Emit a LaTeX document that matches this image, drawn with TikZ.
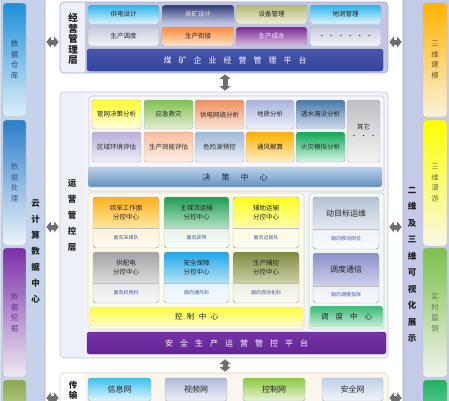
\documentclass[tikz,border=0pt]{standalone}
\usepackage{fontspec}
\setmainfont{Noto Sans CJK SC}
\usetikzlibrary{arrows.meta}
% colours
\definecolor{lpbg}{HTML}{C4D3EA}\definecolor{lpbd}{HTML}{A8B4CC}
\definecolor{rpbg}{HTML}{C4CAE8}\definecolor{rpbd}{HTML}{A0A8CC}
\definecolor{dwA}{HTML}{1E8FD8}\definecolor{dwB}{HTML}{DDEFF9}\definecolor{dwT}{HTML}{34466E}
\definecolor{clA}{HTML}{2A7FC8}\definecolor{clB}{HTML}{EEF4FA}\definecolor{clT}{HTML}{4A5A8A}
\definecolor{wjA}{HTML}{7A30A8}\definecolor{wjB}{HTML}{EEE8F4}\definecolor{wjT}{HTML}{6A3A8A}
\definecolor{lgA}{HTML}{8CA850}\definecolor{lgB}{HTML}{B8CC88}
\definecolor{jmA}{HTML}{FFB400}\definecolor{jmB}{HTML}{FBF2DC}\definecolor{jmT}{HTML}{7A5A20}
\definecolor{myA}{HTML}{FFFF00}\definecolor{myB}{HTML}{F8F8E8}\definecolor{myT}{HTML}{7A7A30}
\definecolor{jcA}{HTML}{7CC04C}\definecolor{jcB}{HTML}{F0F4EC}\definecolor{jcT}{HTML}{5A7A4A}
\definecolor{rgA}{HTML}{20B060}\definecolor{rgB}{HTML}{60C890}
\definecolor{tpin}{HTML}{C2C6E4}\definecolor{labbg}{HTML}{EEF0F8}\definecolor{tpbd}{HTML}{A4AACC}
\definecolor{mpin}{HTML}{F4F2FA}\definecolor{mpbd}{HTML}{C4C4D6}
\definecolor{bpin}{HTML}{FAF6EE}\definecolor{bpbd}{HTML}{E0D2B4}
\definecolor{gdA}{HTML}{2AB4EA}\definecolor{gdB}{HTML}{E2F5FC}
\definecolor{ckA}{HTML}{2E3A76}\definecolor{ckB}{HTML}{C8CCE8}\definecolor{ckT}{HTML}{F0E8D0}
\definecolor{sbA}{HTML}{B4B874}\definecolor{sbB}{HTML}{EEF0DC}
\definecolor{sdA}{HTML}{C8CCE0}\definecolor{sdB}{HTML}{F4F4FA}
\definecolor{sxA}{HTML}{FF8A3E}\definecolor{sxB}{HTML}{FFE4CC}
\definecolor{scA}{HTML}{7A2890}\definecolor{scB}{HTML}{D8C0E0}\definecolor{scT}{HTML}{F2E4F6}
\definecolor{navA}{HTML}{4656AA}\definecolor{navB}{HTML}{34449A}
\definecolor{gwA}{HTML}{FFFF30}\definecolor{gwB}{HTML}{FCFCE2}
\definecolor{yjA}{HTML}{80C050}\definecolor{yjB}{HTML}{E2F0D4}
\definecolor{gdwA}{HTML}{F09060}\definecolor{gdwB}{HTML}{FBE6DA}
\definecolor{dzA}{HTML}{A8B4E0}\definecolor{dzB}{HTML}{EEF0FA}
\definecolor{tsA}{HTML}{4878A8}\definecolor{tsB}{HTML}{D2DEEC}
\definecolor{qtA}{HTML}{C0C0C4}\definecolor{qtB}{HTML}{F4F4F4}
\definecolor{qyA}{HTML}{B8B0D8}\definecolor{qyB}{HTML}{F0EEF8}
\definecolor{xnA}{HTML}{F8BE9C}\definecolor{xnB}{HTML}{FCF0E8}
\definecolor{wxA}{HTML}{A0B8D8}\definecolor{wxB}{HTML}{EEF2F8}
\definecolor{tfA}{HTML}{FFB000}\definecolor{tfB}{HTML}{FFF0C8}
\definecolor{hzA}{HTML}{10A858}\definecolor{hzB}{HTML}{D8F4E4}
\definecolor{jczA}{HTML}{BCD2EA}\definecolor{jczM}{HTML}{E4EEF8}\definecolor{jczB}{HTML}{6090C0}
\definecolor{kzA}{HTML}{FFFF3C}\definecolor{kzB}{HTML}{FFFBC8}
\definecolor{ddA}{HTML}{3CB878}\definecolor{ddB}{HTML}{C6EED6}
\definecolor{ppA}{HTML}{7434A6}\definecolor{ppB}{HTML}{642494}
\definecolor{xxA}{HTML}{3EC0EE}\definecolor{xxB}{HTML}{E4F6FC}
\definecolor{spA}{HTML}{B0B8D8}\definecolor{spB}{HTML}{F0F2F8}
\definecolor{kwA}{HTML}{8CC840}\definecolor{kwB}{HTML}{EAF4DC}
\definecolor{aqA}{HTML}{C0D0E8}\definecolor{aqB}{HTML}{F2F6FA}
\definecolor{subT}{HTML}{4A5A9A}
\definecolor{arrc}{HTML}{6E6E6E}

\tikzset{
  sh/.style 2 args={top color=#1,bottom color=#2},
  pnl/.style={line width=0.6pt,rounded corners=4pt,inner sep=0pt},
  bx/.style={draw=black!32,line width=0.4pt,rounded corners=2.5pt,inner sep=0pt,align=center,
    font=\fontsize{6.5}{8}\selectfont,text=black!85},
  vbar/.style={draw=black!25,line width=0.4pt,rounded corners=3pt,inner sep=0pt,align=center,
    font=\fontsize{7.5}{10.5}\selectfont},
  vt/.style={align=center,inner sep=0pt,text=black!88,font=\bfseries\fontsize{8.5}{16}\selectfont},
  outl/.style={draw=black!32,line width=0.4pt,rounded corners=3pt,inner sep=0pt},
  divl/.style={draw=black!25,line width=0.4pt},
  maint/.style={align=center,inner sep=0pt,text=black!85,font=\fontsize{6.5}{9}\selectfont},
  subt/.style={align=center,inner sep=0pt,text=subT,font=\fontsize{5}{6}\selectfont},
  dbl/.style={draw=arrc,line width=5pt,shorten <=1pt,shorten >=1pt,
    {Triangle[width=10.5pt,length=4.5pt]}-{Triangle[width=10.5pt,length=4.5pt]}},
  zc-t/.style={sh={FFB020}{FFE7A0}}, zc-b/.style={sh={FFF3D8}{FBFAF2}},
  zm-t/.style={sh={1E9E55}{B4E2C4}}, zm-b/.style={sh={E4F3EA}{F8FCF9}},
  fz-t/.style={sh={FFFF1A}{FFFBB0}}, fz-b/.style={sh={FFFBE2}{FCFCF4}},
  gp-t/.style={sh={A4A4A8}{DCDCDE}}, gp-b/.style={sh={E8E8EC}{F8F8FA}},
  aq-t/.style={sh={1CA6E8}{B8E3F8}}, aq-b/.style={sh={E2F2FB}{F8FCFF}},
  fk-t/.style={sh={7E8A3E}{CCD0A8}}, fk-b/.style={sh={EDEEE2}{F9F9F4}},
  dm-t/.style={sh={B6C2D8}{E6EAF2}}, dm-b/.style={sh={EEF0F6}{FAFBFD}},
  dd-t/.style={sh={8A92CA}{CDD0EA}}, dd-b/.style={sh={ECEDF6}{FAFAFD}},
}
\definecolor{FFB020}{HTML}{FFB020}\definecolor{FFE7A0}{HTML}{FFE7A0}
\definecolor{FFF3D8}{HTML}{FFF3D8}\definecolor{FBFAF2}{HTML}{FBFAF2}
\definecolor{1E9E55}{HTML}{1E9E55}\definecolor{B4E2C4}{HTML}{B4E2C4}
\definecolor{E4F3EA}{HTML}{E4F3EA}\definecolor{F8FCF9}{HTML}{F8FCF9}
\definecolor{FFFF1A}{HTML}{FFFF1A}\definecolor{FFFBB0}{HTML}{FFFBB0}
\definecolor{FFFBE2}{HTML}{FFFBE2}\definecolor{FCFCF4}{HTML}{FCFCF4}
\definecolor{A4A4A8}{HTML}{A4A4A8}\definecolor{DCDCDE}{HTML}{DCDCDE}
\definecolor{E8E8EC}{HTML}{E8E8EC}\definecolor{F8F8FA}{HTML}{F8F8FA}
\definecolor{1CA6E8}{HTML}{1CA6E8}\definecolor{B8E3F8}{HTML}{B8E3F8}
\definecolor{E2F2FB}{HTML}{E2F2FB}\definecolor{F8FCFF}{HTML}{F8FCFF}
\definecolor{7E8A3E}{HTML}{7E8A3E}\definecolor{CCD0A8}{HTML}{CCD0A8}
\definecolor{EDEEE2}{HTML}{EDEEE2}\definecolor{F9F9F4}{HTML}{F9F9F4}
\definecolor{B6C2D8}{HTML}{B6C2D8}\definecolor{E6EAF2}{HTML}{E6EAF2}
\definecolor{EEF0F6}{HTML}{EEF0F6}\definecolor{FAFBFD}{HTML}{FAFBFD}
\definecolor{8A92CA}{HTML}{8A92CA}\definecolor{CDD0EA}{HTML}{CDD0EA}
\definecolor{ECEDF6}{HTML}{ECEDF6}\definecolor{FAFAFD}{HTML}{FAFAFD}
\definecolor{sjbg}{HTML}{F8F8FC}\definecolor{sjbd}{HTML}{C8CAD8}
\definecolor{kqbg}{HTML}{FDFBEA}\definecolor{kqbd}{HTML}{E6DBB0}
\definecolor{dqbg}{HTML}{F2F9F4}\definecolor{dqbd}{HTML}{B6DCC2}
\definecolor{jcT2}{HTML}{1A2A50}

\newcommand\bxat[7]{\node[#6,minimum width={(#4-#2)*1pt},minimum height={(#5-#3)*1pt}] (#1) at ({(#2+#4)/2},{(#3+#5)/2}) {#7};}
\newcommand\twobox[9]{%
  \begin{scope}
    \clip[rounded corners=3pt] (#2,#3) rectangle (#4,#6);
    \fill[#7-t] (#2,#3) rectangle (#4,#5);
    \fill[#7-b] (#2,#5) rectangle (#4,#6);
  \end{scope}
  \draw[divl] (#2,#5) -- (#4,#5);
  \bxat{#1}{#2}{#3}{#4}{#6}{outl}{}
  \node[maint] (#1-m) at ({(#2+#4)/2},{(#3+#5)/2}) {#8};
  \node[subt] (#1-s) at ({(#2+#4)/2},{(#5+#6)/2}) {#9};
}

\begin{document}
\begin{tikzpicture}[x=1pt,y=-1pt]
\useasboundingbox (0,0) rectangle (449,400);
\clip (0,0) rectangle (449,400);
\fill[white] (0,0) rectangle (449,400);

% ---------- left column ----------
\bxat{lp}{1}{-6}{45}{406}{pnl,fill=lpbg,draw=lpbd}{}
\bxat{dwck}{3}{3}{26}{116}{vbar,sh={dwA}{dwB},text=dwT}{数\\据\\仓\\库}
\bxat{sjcl}{3}{120}{26}{245}{vbar,sh={clA}{clB},text=clT}{数\\据\\处\\理}
\bxat{sjwj}{3}{248}{26}{377}{vbar,sh={wjA}{wjB},text=wjT}{数\\据\\挖\\掘}
\bxat{lg}{3}{380}{26}{410}{vbar,sh={lgA}{lgB}}{}
\node[vt] (yjs) at (35.5,251) {云\\计\\算\\数\\据\\中\\心};

% ---------- right column ----------
\bxat{rp}{403}{-6}{455}{406}{pnl,fill=rpbg,draw=rpbd}{}
\bxat{swjm}{423}{3}{447}{117}{vbar,sh={jmA}{jmB},text=jmT}{三\\维\\建\\模}
\bxat{swmy}{423}{120}{447}{246}{vbar,sh={myA}{myB},text=myT}{三\\维\\漫\\游}
\bxat{ssjc}{423}{248}{447}{377}{vbar,sh={jcA}{jcB},text=jcT}{实\\时\\监\\测}
\bxat{rg}{423}{380}{447}{410}{vbar,sh={rgA}{rgB}}{}
\node[vt,font=\bfseries\fontsize{8.5}{16.5}\selectfont] (ewz) at (412,265) {二\\维\\及\\三\\维\\可\\视\\化\\展\\示};

% ---------- top panel ----------
\begin{scope}
  \clip[rounded corners=4pt] (60,2) rectangle (388,73);
  \fill[tpin] (60,2) rectangle (388,73);
  \fill[labbg] (60,2) rectangle (85,73);
\end{scope}
\bxat{tp}{60}{2}{388}{73}{pnl,draw=tpbd}{}
\node[vt,font=\bfseries\fontsize{9.5}{10.5}\selectfont] (jyl) at (73,39) {经\\营\\管\\理\\层};
\bxat{gd}{88}{5}{159}{24}{bx,sh={gdA}{gdB}}{供电设计}
\bxat{ck}{162}{5}{234}{24}{bx,sh={ckA}{ckB},text=ckT}{采矿设计}
\bxat{sb}{236}{5}{307}{24}{bx,sh={sbA}{sbB}}{设备管理}
\bxat{dc}{310}{5}{381}{24}{bx,sh={gdA}{gdB}}{地测管理}
\bxat{sd}{88}{27}{159}{46}{bx,sh={sdA}{sdB}}{生产调度}
\bxat{sx}{162}{27}{234}{46}{bx,sh={sxA}{sxB}}{生产衔接}
\bxat{sc}{236}{27}{307}{46}{bx,sh={scA}{scB},text=scT}{生产成本}
\bxat{dt}{310}{27}{381}{46}{bx,sh={sdA}{sdB}}{·\hspace{3pt}·\hspace{3pt}·\hspace{3pt}·\hspace{3pt}·\hspace{3pt}·}
\bxat{jypt}{87}{49}{383}{71}{bx,draw=navB,sh={navA}{navB},text=white,font=\fontsize{8}{9}\selectfont}{煤\hspace{7pt}矿\hspace{7pt}企\hspace{7pt}业\hspace{7pt}经\hspace{7pt}营\hspace{7pt}管\hspace{7pt}理\hspace{7pt}平\hspace{7pt}台}

% ---------- middle panel ----------
\begin{scope}
  \clip[rounded corners=4pt] (60,92) rectangle (388,358);
  \fill[mpin] (60,92) rectangle (388,358);
  \fill[labbg] (60,92) rectangle (85,358);
\end{scope}
\bxat{mp}{60}{92}{388}{358}{pnl,draw=mpbd}{}
\node[vt] (yyl) at (72,215.5) {运\\营\\管\\控\\层};
\bxat{jcq}{89}{96}{384}{191}{pnl,fill=sjbg,draw=sjbd,rounded corners=3pt}{}
\bxat{kzq}{88}{193}{304}{329}{pnl,fill=kqbg,draw=kqbd,rounded corners=3pt}{}
\bxat{ddq}{309}{193}{384}{329}{pnl,fill=dqbg,draw=dqbd,rounded corners=3pt}{}

\bxat{gw}{92}{100}{141}{129}{bx,sh={gwA}{gwB}}{管网决策分析}
\bxat{yj}{144}{100}{193}{129}{bx,sh={yjA}{yjB}}{应急救灾}
\bxat{gdw}{195}{100}{244}{129}{bx,sh={gdwA}{gdwB}}{供电网络分析}
\bxat{dz}{246}{100}{294}{129}{bx,sh={dzA}{dzB}}{地质分析}
\bxat{ts}{296}{100}{345}{129}{bx,sh={tsA}{tsB}}{透水淹没分析}
\bxat{qt}{347}{100}{380}{162}{bx,sh={qtA}{qtB}}{其它\\[1pt]·\hspace{3pt}·\hspace{3pt}·}
\bxat{qy}{92}{132}{141}{162}{bx,sh={qyA}{qyB}}{区域环境评估}
\bxat{xn}{144}{132}{193}{162}{bx,sh={xnA}{xnB}}{生产效能评估}
\bxat{wx}{195}{132}{244}{162}{bx,sh={wxA}{wxB}}{危险源预控}
\bxat{tf}{246}{132}{294}{162}{bx,sh={tfA}{tfB}}{通风解算}
\bxat{hz}{296}{132}{345}{162}{bx,sh={hzA}{hzB}}{火灾模拟分析}
\bxat{jczx}{88}{167}{382}{187}{bx,draw=black!25,top color=jczA,middle color=jczM,bottom color=jczB,text=jcT2,font=\fontsize{8}{9}\selectfont}{决\hspace{11pt}策\hspace{11pt}中\hspace{11pt}心}

\twobox{zc}{93}{197}{159}{228}{248}{zc}{综采工作面\\分控中心}{面向采煤队}
\twobox{zm}{164}{197}{229}{228}{248}{zm}{主煤流运输\\分控中心}{面向皮带}
\twobox{fz}{233}{197}{299}{228}{248}{fz}{辅助运输\\分控中心}{面向运输队}
\twobox{gp}{93}{252}{159}{283}{303}{gp}{供配电\\分控中心}{面向机电科}
\twobox{aq}{164}{252}{229}{283}{303}{aq}{安全保障\\分控中心}{面向通风科}
\twobox{fk}{233}{252}{299}{283}{303}{fk}{生产辅控\\分控中心}{面向自动化科}
\twobox{dm}{313}{197}{379}{229}{249}{dm}{{\fontsize{8}{9}\selectfont 动目标运维}}{面向移动岗位}
\twobox{dd}{313}{253}{379}{286}{303}{dd}{{\fontsize{8}{9}\selectfont 调度通信}}{面向调度指挥}
\bxat{kzzx}{90}{307}{303}{326}{bx,draw=black!18,sh={kzA}{kzB},font=\fontsize{7.5}{9}\selectfont}{控\hspace{4.5pt}制\hspace{4.5pt}中\hspace{4.5pt}心}
\bxat{ddzx}{310}{306}{383}{327}{bx,draw=black!18,sh={ddA}{ddB},font=\fontsize{7.5}{9}\selectfont}{调\hspace{7pt}度\hspace{7pt}中\hspace{7pt}心}
\bxat{aqpt}{87}{332}{386}{354}{bx,draw=ppB,sh={ppA}{ppB},text=white,font=\fontsize{8}{9}\selectfont}{安\hspace{7pt}全\hspace{7pt}生\hspace{7pt}产\hspace{7pt}运\hspace{7pt}营\hspace{7pt}管\hspace{7pt}控\hspace{7pt}平\hspace{7pt}台}

% ---------- bottom panel ----------
\begin{scope}
  \clip[rounded corners=4pt] (60,373) rectangle (388,412);
  \fill[bpin] (60,373) rectangle (388,412);
  \fill[white] (60,373) rectangle (85,412);
\end{scope}
\bxat{bp}{60}{373}{388}{412}{pnl,draw=bpbd}{}
\node[vt,font=\bfseries\fontsize{8.5}{10}\selectfont] (csl) at (73,390.5) {传\\输};
\bxat{xxw}{88}{378}{151}{401}{bx,sh={xxA}{xxB},font=\fontsize{8}{9}\selectfont}{信息网}
\bxat{spw}{165}{378}{227}{401}{bx,sh={spA}{spB},font=\fontsize{8}{9}\selectfont}{视频网}
\bxat{kzw}{243}{378}{305}{401}{bx,sh={kwA}{kwB},font=\fontsize{8}{9}\selectfont}{控制网}
\bxat{aqw}{322}{378}{383}{401}{bx,sh={aqA}{aqB},font=\fontsize{8}{9}\selectfont}{安全网}

% ---------- connectors ----------
\coordinate (r1) at (0,42);
\coordinate (r2) at (0,227);
\coordinate (r3) at (0,398);
\coordinate (c1) at (225,0);
\draw[dbl] (lp.east |- r1) -- (tp.west |- r1);
\draw[dbl] (lp.east |- r2) -- (mp.west |- r2);
\draw[dbl] (lp.east |- r3) -- (bp.west |- r3);
\draw[dbl] (tp.east |- r1) -- (rp.west |- r1);
\draw[dbl] (mp.east |- r2) -- (rp.west |- r2);
\draw[dbl] (bp.east |- r3) -- (rp.west |- r3);
\draw[dbl] (tp.south -| c1) -- (mp.north -| c1);
\draw[dbl] (mp.south -| c1) -- (bp.north -| c1);
\end{tikzpicture}
\end{document}
